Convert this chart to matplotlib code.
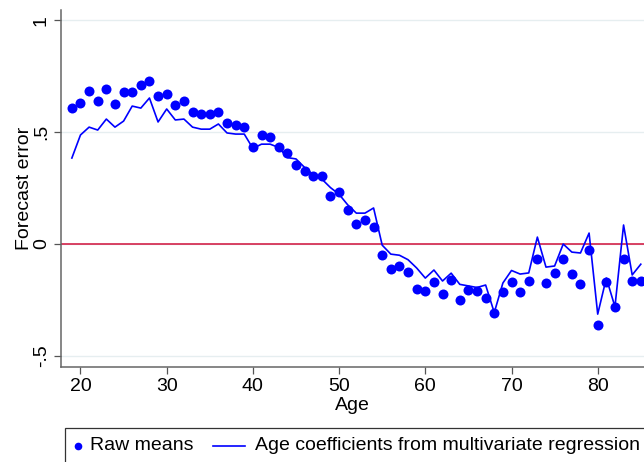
import matplotlib.pyplot as plt
from matplotlib.lines import Line2D
from matplotlib.patches import Rectangle

plt.rcParams["font.family"] = ["Liberation Sans", "DejaVu Sans"]

ages = list(range(19, 86))

raw_means = [
    0.607, 0.630, 0.683, 0.638, 0.692, 0.625, 0.679, 0.679, 0.710, 0.728,
    0.660, 0.670, 0.620, 0.638, 0.590, 0.580, 0.580, 0.590, 0.540, 0.530,
    0.524, 0.435, 0.487, 0.478, 0.435, 0.408, 0.353, 0.326, 0.302, 0.306,
    0.216, 0.232, 0.154, 0.091, 0.107, 0.078, -0.049, -0.110, -0.098, -0.125,
    -0.200, -0.210, -0.170, -0.221, -0.160, -0.250, -0.207, -0.210, -0.241, -0.308,
    -0.212, -0.170, -0.212, -0.163, -0.065, -0.174, -0.130, -0.067, -0.134, -0.178,
    -0.027, -0.360, -0.170, -0.280, -0.067, -0.165, -0.165,
]

age_coefs = [
    0.384, 0.487, 0.522, 0.509, 0.558, 0.522, 0.549, 0.616, 0.607, 0.652,
    0.545, 0.603, 0.554, 0.558, 0.522, 0.513, 0.513, 0.536, 0.496, 0.491,
    0.491, 0.427, 0.446, 0.446, 0.431, 0.386, 0.380, 0.342, 0.310, 0.290,
    0.252, 0.222, 0.175, 0.138, 0.138, 0.161, -0.005, -0.045, -0.050, -0.070,
    -0.107, -0.152, -0.116, -0.165, -0.130, -0.180, -0.187, -0.194, -0.183, -0.306,
    -0.174, -0.118, -0.134, -0.129, 0.031, -0.103, -0.098, 0.000, -0.036, -0.040,
    0.049, -0.313, -0.152, -0.280, 0.085, -0.138, -0.090,
]

x_ticks = [20, 30, 40, 50, 60, 70, 80]
y_ticks = [-0.5, 0, 0.5, 1]
y_tick_labels = ["-.5", "0", ".5", "1"]

W, H = 644, 462
BLUE = "#0000ff"
FS = 14


def fx(px):
    return px / W


def fy(py):
    return 1 - py / H


fig = plt.figure(figsize=(W / 100, H / 100), dpi=100)
ax = fig.add_axes([fx(61), fy(367), 1 - fx(61), (367 - 10) / H])

for y in y_ticks:
    ax.axhline(y, color="#e6eef0", lw=1.0, zorder=0)
ax.axhline(0, color="#d0103a", lw=1.1, zorder=1)

ax.plot(ages, raw_means, "o", color=BLUE, ms=7.2, mec="none", zorder=3)
ax.plot(ages, age_coefs, "-", color=BLUE, lw=1.2, zorder=2)

ax.set_xlim(17.74, 85.37)
ax.set_ylim(-0.549, 1.045)
ax.set_xticks(x_ticks)
ax.set_yticks(y_ticks)
ax.set_yticklabels(y_tick_labels, rotation=90, va="center")
ax.tick_params(axis="both", labelsize=FS, length=5.0, width=0.9,
               color="#555555", pad=3)

for side in ["top", "right"]:
    ax.spines[side].set_visible(False)
for side in ["left", "bottom"]:
    ax.spines[side].set_color("#666666")
    ax.spines[side].set_linewidth(1.1)

ax.set_xlabel("Age", fontsize=FS, labelpad=1)
ax.set_ylabel("Forecast error", fontsize=FS, labelpad=0)

# Stata-style legend box below the plot, running off the right edge
fig.add_artist(Rectangle((fx(65), fy(475)), 1.2, (475 - 428) / H,
                         transform=fig.transFigure, fill=False,
                         edgecolor="#333333", lw=0.9))
fig.add_artist(Line2D([fx(78)], [fy(446)], marker="o", ms=5.5, color=BLUE,
                      mec="none", transform=fig.transFigure))
fig.text(fx(90), fy(446), "Raw means", fontsize=FS, va="center")
fig.add_artist(Line2D([fx(213), fx(245)], [fy(446), fy(446)], color=BLUE,
                      lw=1.2, transform=fig.transFigure))
fig.text(fx(255), fy(446), "Age coefficients from multivariate regression",
         fontsize=FS, va="center")

fig.savefig("out.png", dpi=100)
